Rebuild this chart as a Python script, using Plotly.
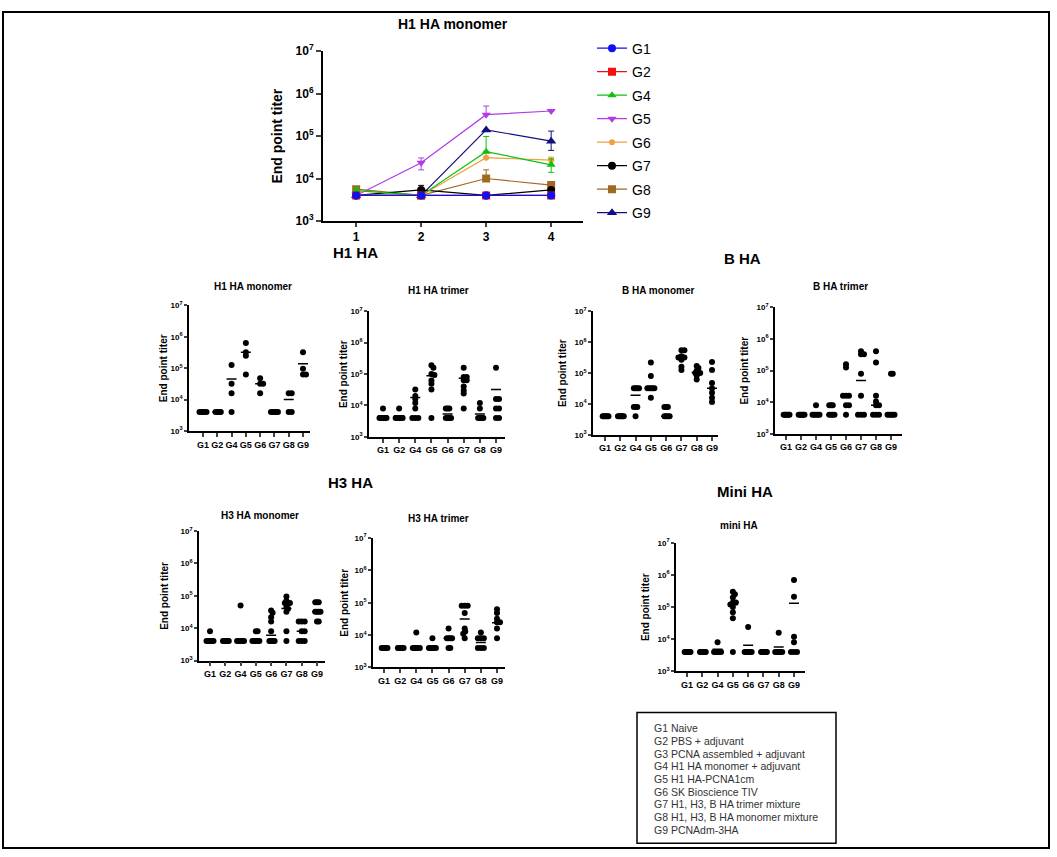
import numpy as np
import plotly.graph_objects as go

W, H = 1057, 857
FONT = "Arial, Liberation Sans, sans-serif"

# ---------------- data ----------------
groups = ["G1", "G2", "G4", "G5", "G6", "G7", "G8", "G9"]
timepoints = [1, 2, 3, 4]

# top chart: mean titers over time, with upper / lower error
top_g1 = [4000, 4000, 4000, 4000]
top_g2 = [4000, 4000, 4000, 4000]
top_g4 = [5200, 4000, 43000, 21000]
top_g5 = [4000, 23500, 320000, 390000]
top_g6 = [4000, 4000, 31000, 27000]
top_g7 = [4000, 5400, 4000, 5400]
top_g8 = [5600, 4000, 10000, 7000]
top_g9 = [4000, 4000, 140000, 76000]

top_err_up = {
    "G1": [0, 0, 0, 0], "G2": [0, 0, 0, 0],
    "G4": [800, 0, 55000, 8000], "G5": [0, 7000, 190000, 0],
    "G6": [0, 0, 9000, 5000], "G7": [0, 1500, 0, 0],
    "G8": [700, 0, 6000, 1000], "G9": [0, 0, 0, 55000],
}
top_err_dn = {
    "G1": [0, 0, 0, 0], "G2": [0, 0, 0, 0],
    "G4": [800, 0, 0, 7000], "G5": [0, 7500, 0, 0],
    "G6": [0, 0, 0, 0], "G7": [0, 1500, 0, 0],
    "G8": [700, 0, 0, 1000], "G9": [0, 0, 0, 30000],
}

# dot plots: per group individual titers
h1_monomer = [
    [4000, 4000, 4000, 4000, 4000],
    [4000, 4000, 4000, 4000],
    [125000, 32000, 16000, 4000],
    [630000, 320000, 250000, 63000],
    [48000, 32000, 32000, 16000],
    [4000, 4000, 4000, 4000, 4000],
    [16000, 16000, 4000, 4000],
    [320000, 95000, 63000, 63000],
]
h1_monomer_line = [4000, 4000, 45000, 320000, 32000, 4000, 10000, 137000]

h1_trimer = [
    [8000, 4000, 4000, 4000, 4000, 4000],
    [8000, 4000, 4000, 4000, 4000, 4000],
    [32000, 20000, 16000, 12000, 8000, 4000, 4000, 4000],
    [190000, 160000, 100000, 93000, 62000, 49000, 32000, 4000],
    [8000, 8000, 8000, 4000, 4000, 4000, 4000],
    [160000, 80000, 80000, 64000, 64000, 40000, 30000, 24000, 8000],
    [12000, 8000, 4000, 4000, 4000, 4000],
    [160000, 16000, 16000, 8000, 8000, 4000, 4000],
]
h1_trimer_line = [4700, 4700, 18000, 89000, 5300, 73000, 5300, 32000]

b_monomer = [
    [4000, 4000, 4000, 4000, 4000, 4000],
    [4000, 4000, 4000, 4000, 4000, 4000],
    [32000, 32000, 32000, 32000, 8000, 8000, 8000, 4000],
    [220000, 80000, 32000, 32000, 32000, 32000, 32000, 16000],
    [8000, 8000, 8000, 4000, 4000, 4000, 4000],
    [550000, 550000, 350000, 320000, 320000, 270000, 160000, 125000],
    [170000, 145000, 120000, 100000, 100000, 100000, 83000, 62000],
    [230000, 125000, 48000, 32000, 23000, 16000, 11500],
]
b_monomer_line = [4000, 4000, 19000, 32000, 4000, 350000, 105000, 32000]

b_trimer = [
    [4000, 4000, 4000, 4000, 4000, 4000],
    [4000, 4000, 4000, 4000, 4000, 4000],
    [8000, 4000, 4000, 4000, 4000, 4000],
    [8000, 8000, 8000, 4000, 4000, 4000, 4000],
    [160000, 125000, 16000, 16000, 16000, 8000, 8000, 4000],
    [410000, 330000, 330000, 80000, 16000, 4000, 4000, 4000],
    [410000, 180000, 16000, 10500, 8000, 8000, 4000, 4000, 4000],
    [80000, 80000, 4000, 4000, 4000, 4000, 4000],
]
b_trimer_line = [4000, 4000, 4000, 4000, 16000, 49000, 8000, 4000]

h3_monomer = [
    [8000, 4000, 4000, 4000, 4000, 4000],
    [4000, 4000, 4000, 4000, 4000, 4000],
    [50000, 4000, 4000, 4000, 4000, 4000],
    [8000, 8000, 4000, 4000, 4000, 4000, 4000],
    [35000, 30000, 22000, 16000, 8000, 4000, 4000, 4000, 4000],
    [95000, 70000, 60000, 60000, 60000, 45000, 40000, 32000, 8000, 4000],
    [16000, 16000, 16000, 8000, 8000, 4000, 4000, 4000],
    [63000, 63000, 63000, 32000, 32000, 32000, 32000, 16000, 16000],
]
h3_monomer_line = [4000, 4000, 4000, 4000, 6100, 41000, 8000, 32000]

h3_trimer = [
    [4000, 4000, 4000, 4000, 4000, 4000],
    [4000, 4000, 4000, 4000, 4000, 4000],
    [12000, 4000, 4000, 4000, 4000, 4000],
    [8000, 4000, 4000, 4000, 4000, 4000],
    [16000, 8000, 8000, 8000, 8000, 4000, 4000],
    [80000, 80000, 80000, 48000, 16000, 13000, 11000, 8000],
    [12000, 8000, 8000, 8000, 4000, 4000, 4000],
    [63000, 48000, 32000, 25000, 25000, 16000, 8000],
]
h3_trimer_line = [4000, 4000, 4000, 4000, 8000, 31600, 5900, 24000]

mini_ha = [
    [4000, 4000, 4000, 4000, 4000, 4000],
    [4000, 4000, 4000, 4000, 4000, 4000],
    [8000, 4000, 4000, 4000, 4000, 4000],
    [300000, 250000, 200000, 140000, 140000, 120000, 100000, 69000, 45000, 4000],
    [24000, 4000, 4000, 4000, 4000, 4000],
    [4000, 4000, 4000, 4000, 4000, 4000],
    [16000, 4000, 4000, 4000, 4000, 4000],
    [700000, 210000, 12000, 8000, 4000, 4000, 4000],
]
mini_ha_line = [4000, 4000, 4900, 120000, 6500, 4000, 5700, 133000]

legend_lines = [
    "G1 Naive",
    "G2 PBS + adjuvant",
    "G3 PCNA assembled + adjuvant",
    "G4 H1 HA monomer + adjuvant",
    "G5 H1 HA-PCNA1cm",
    "G6 SK Bioscience TIV",
    "G7 H1, H3, B HA trimer mixture",
    "G8 H1, H3, B HA monomer mixture",
    "G9 PCNAdm-3HA",
]

# ---------------- helpers ----------------
def px(x):
    return x / W


def py(y):
    return 1 - y / H


def swarm(vals, sp, dec, dmin=3.0, step=0.5, cap=3.5):
    ys = [-np.log10(v) * dec for v in vals]
    order = sorted(range(len(vals)), key=lambda i: vals[i], reverse=True)
    placed = []
    offs = [0.0] * len(vals)
    cands = [0.0]
    for n in range(1, 80):
        cands += [n * step, -n * step]
    for i in order:
        y = ys[i]
        chosen = cands[-1]
        for c in cands:
            if all((c - a) ** 2 + (y - b) ** 2 >= dmin ** 2 for a, b in placed):
                chosen = c
                break
        placed.append((chosen, y))
        offs[i] = chosen
    m = max(abs(o) for o in offs) if offs else 0
    if m > cap:
        offs = [o * cap / m for o in offs]
    return [o / sp for o in offs]


def note(x, y, text, size, angle=0, anchor="center", color="black"):
    return dict(x=px(x), y=py(y), text=text, showarrow=False, xref="paper", yref="paper",
                xanchor=anchor, yanchor="middle", textangle=angle,
                font=dict(size=size, color=color, family=FONT))


fig = go.Figure()

# ---------------- top chart ----------------
top_series = [
    ("G1", top_g1, "#1010F0", "circle", 8),
    ("G2", top_g2, "#F01010", "square", 8),
    ("G4", top_g4, "#10C010", "triangle-up", 8),
    ("G5", top_g5, "#B03CE8", "triangle-down", 8),
    ("G6", top_g6, "#F0A040", "circle", 6),
    ("G7", top_g7, "#000000", "circle", 8),
    ("G8", top_g8, "#A06A20", "square", 8),
    ("G9", top_g9, "#101080", "triangle-up", 9),
]
for rank in range(len(top_series) - 1, -1, -1):
    name, vals, col, sym, sz = top_series[rank]
    fig.add_trace(go.Scatter(
        x=timepoints, y=vals, mode="lines+markers", name=name,
        legendgroup=name, legendrank=rank + 1,
        line=dict(color=col, width=1.2),
        marker=dict(symbol=sym, size=sz, color=col),
        error_y=dict(type="data", symmetric=False, array=top_err_up[name],
                     arrayminus=top_err_dn[name], color=col, thickness=1, width=3),
        xaxis="x", yaxis="y",
    ))

logticks = [1e3, 1e4, 1e5, 1e6, 1e7]
logtext = ["10<sup>3</sup>", "10<sup>4</sup>", "10<sup>5</sup>", "10<sup>6</sup>", "10<sup>7</sup>"]

TX0, TX1, TY0, TY1 = 323, 583, 43, 216
layout = dict(
    width=W, height=H, margin=dict(l=0, r=0, t=0, b=0),
    paper_bgcolor="white", plot_bgcolor="rgba(0,0,0,0)",
    font=dict(family=FONT, color="black"),
    showlegend=True,
    legend=dict(x=px(592), y=py(24), xanchor="left", yanchor="top",
                traceorder="grouped", tracegroupgap=2.3,
                font=dict(size=14, family=FONT), bgcolor="rgba(0,0,0,0)"),
    xaxis=dict(domain=[px(TX0), px(TX1)], range=[0.49, 4.49], anchor="y",
               showline=True, linecolor="black", linewidth=2, ticks="outside",
               ticklen=4, tickwidth=2, tickvals=timepoints, showgrid=False, zeroline=False,
               tickfont=dict(size=12, weight="bold")),
    yaxis=dict(domain=[py(TY1), py(TY0)], type="log", range=[3, 7], anchor="x",
               showline=True, linecolor="black", linewidth=2, ticks="outside",
               ticklen=5, tickwidth=2, tickvals=logticks, ticktext=logtext,
               showgrid=False, zeroline=False, tickfont=dict(size=12, weight="bold")),
)

annotations = [
    note(453, 15, "<b>H1 HA monomer</b>", 14),
    note(277, 130, "<b>End point titer</b>", 14, angle=-90),
    note(355, 248, "<b>H1 HA</b>", 15),
    note(742, 254, "<b>B HA</b>", 15),
    note(350, 482, "<b>H3 HA</b>", 15),
    note(745, 492, "<b>Mini HA</b>", 15),
]

# ---------------- dot panels ----------------
panels = [
    ("H1 HA monomer", h1_monomer, h1_monomer_line, 189, 310, 302, 430, 203, 303, 253, 283, 163),
    ("H1 HA trimer", h1_trimer, h1_trimer_line, 369, 505, 308, 436, 383, 496, 438, 287, 343),
    ("B HA monomer", b_monomer, b_monomer_line, 593, 718, 308, 434, 605, 712, 658, 287, 562),
    ("B HA trimer", b_trimer, b_trimer_line, 775, 902, 304, 433, 786, 891, 840, 283, 745),
    ("H3 HA monomer", h3_monomer, h3_monomer_line, 199, 325, 532, 664, 210, 317, 260, 516, 165),
    ("H3 HA trimer", h3_trimer, h3_trimer_line, 373, 505, 539, 671, 384, 497, 438, 519, 345),
    ("mini HA", mini_ha, mini_ha_line, 676, 805, 544, 675, 687, 794, 739, 526, 645),
]

for k, (title, data, lines, x0, x1, yt, yb, g1, g9, tx, ty, ytx) in enumerate(panels):
    idx = k + 2
    xa, ya = f"x{idx}", f"y{idx}"
    sp = (g9 - g1) / 7.0
    dec = (yb - yt) / 4.0
    xs, ys = [], []
    for gi, vals in enumerate(data):
        offs = swarm(vals, sp, dec)
        for v, o in zip(vals, offs):
            xs.append(gi + o)
            ys.append(v)
    fig.add_trace(go.Scatter(x=xs, y=ys, mode="markers", showlegend=False,
                             marker=dict(color="black", size=6),
                             xaxis=xa, yaxis=ya, hoverinfo="skip"))
    hw = 5.0 / sp
    lx, ly = [], []
    for gi, lv in enumerate(lines):
        lx += [gi - hw, gi + hw, None]
        ly += [lv, lv, None]
    fig.add_trace(go.Scatter(x=lx, y=ly, mode="lines", showlegend=False,
                             line=dict(color="black", width=1.5),
                             xaxis=xa, yaxis=ya, hoverinfo="skip"))
    r0 = -(g1 - x0) / sp
    r1 = 7 + (x1 - g9) / sp
    layout[f"xaxis{idx}"] = dict(
        domain=[px(x0), px(x1)], range=[r0, r1], anchor=ya,
        showline=True, linecolor="black", linewidth=1.5, ticks="outside",
        ticklen=4, tickwidth=1.5, tickvals=list(range(8)), ticktext=groups,
        showgrid=False, zeroline=False, tickfont=dict(size=9, weight="bold"))
    layout[f"yaxis{idx}"] = dict(
        domain=[py(yb), py(yt)], type="log", range=[3, 7], anchor=xa,
        showline=True, linecolor="black", linewidth=1.5, ticks="outside",
        ticklen=3, tickwidth=1.5, tickvals=logticks, ticktext=logtext,
        showgrid=False, zeroline=False, tickfont=dict(size=8, weight="bold"))
    annotations.append(note(tx, ty, f"<b>{title}</b>", 10))
    annotations.append(note(ytx, (yt + yb) / 2, "<b>End point titer</b>", 10, angle=-90))

# legend box text
for i, t in enumerate(legend_lines):
    annotations.append(note(652, 733 + i * 12.9, t, 10.5, anchor="left", color="#333333"))

layout["annotations"] = annotations
layout["shapes"] = [
    dict(type="rect", xref="paper", yref="paper", x0=px(3), x1=px(1049), y0=py(855), y1=py(3),
         line=dict(color="black", width=2)),
    dict(type="rect", xref="paper", yref="paper", x0=px(637), x1=px(836), y0=py(850), y1=py(717),
         line=dict(color="black", width=1.5)),
]

fig.update_layout(**layout)
fig.write_html("out.html",
               post_script="document.body.style.margin='0';document.body.style.padding='0';")
